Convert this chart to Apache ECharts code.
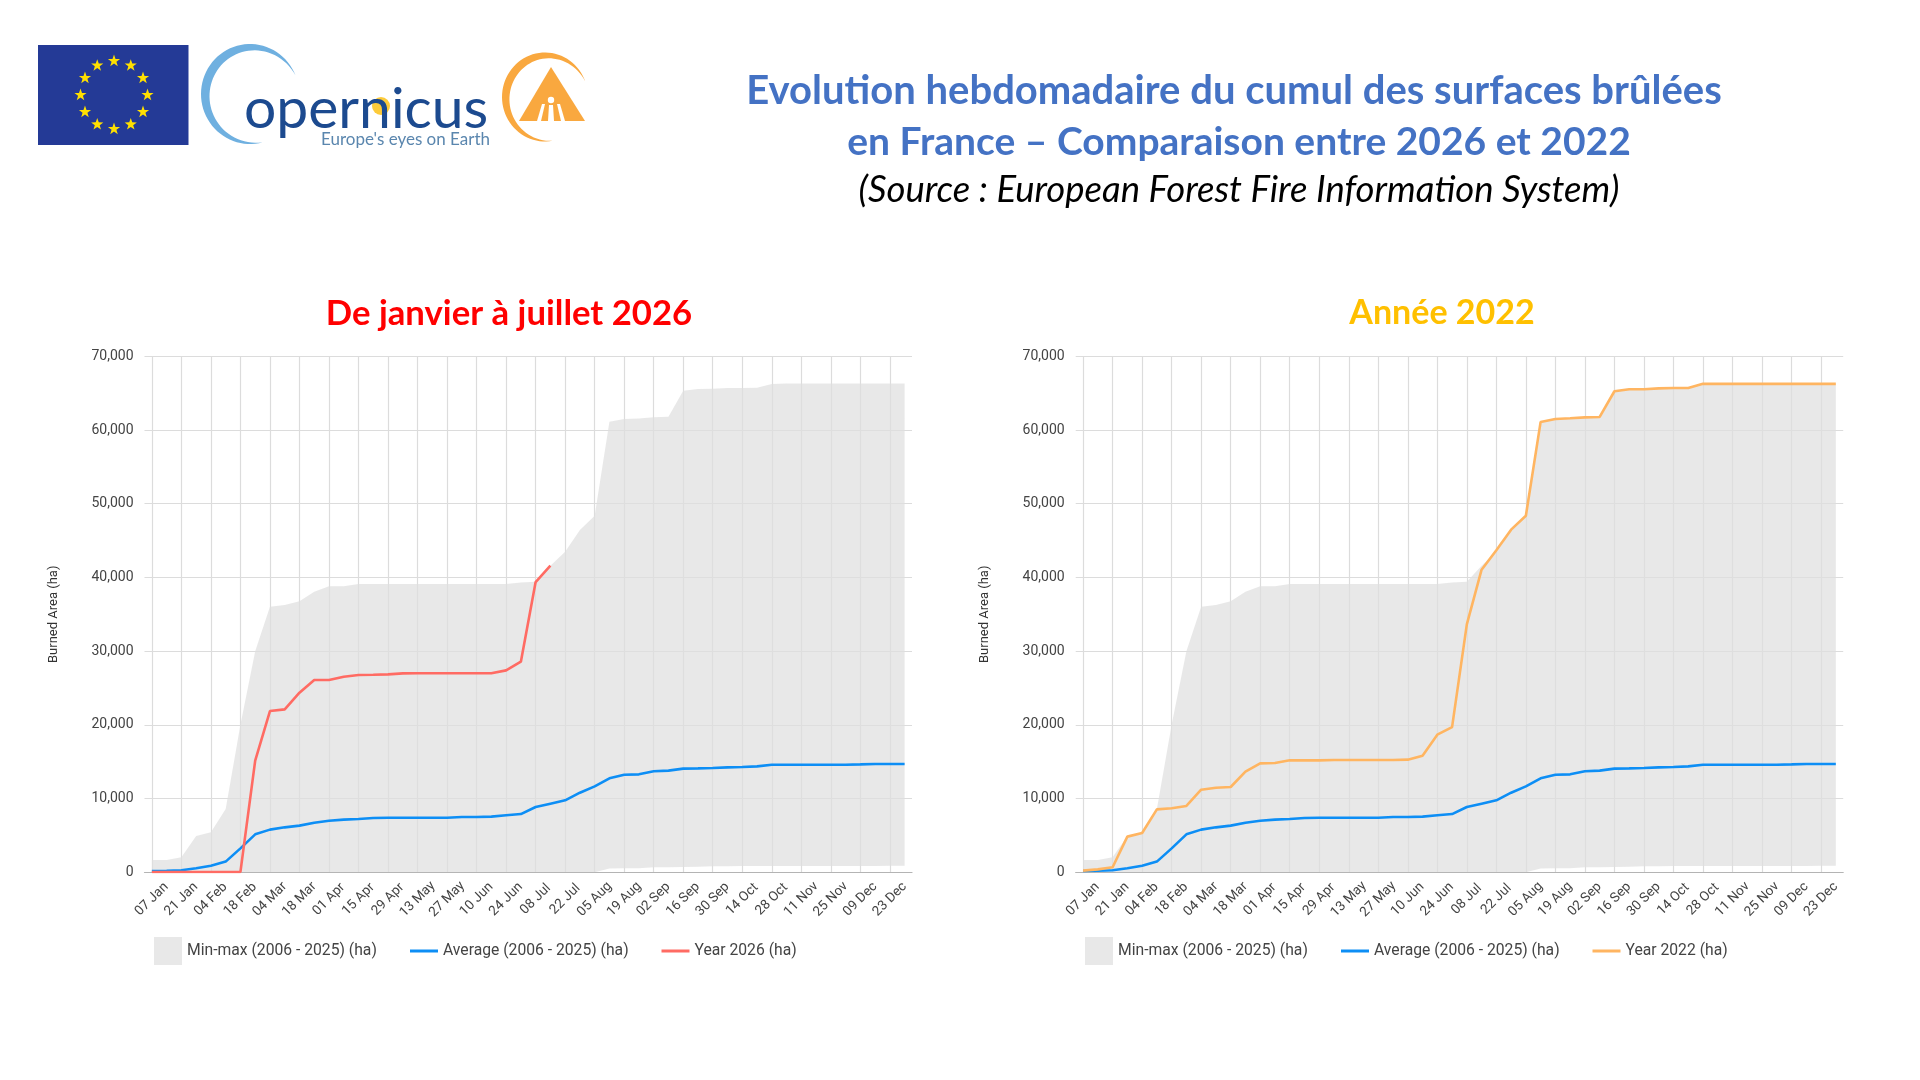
<!DOCTYPE html>
<html><head><meta charset="utf-8">
<style>html,body{margin:0;padding:0;background:#fff}#c{width:1920px;height:1080px}</style>
<script src="https://cdn.jsdelivr.net/npm/echarts@6/dist/echarts.min.js"></script>
</head><body><div id="c"></div>
<script>
// ---- data ----
const weeks = ['07 Jan','14 Jan','21 Jan','28 Jan','04 Feb','11 Feb','18 Feb','25 Feb','04 Mar','11 Mar','18 Mar','25 Mar','01 Apr','08 Apr','15 Apr','22 Apr','29 Apr','06 May','13 May','20 May','27 May','03 Jun','10 Jun','17 Jun','24 Jun','01 Jul','08 Jul','15 Jul','22 Jul','29 Jul','05 Aug','12 Aug','19 Aug','26 Aug','02 Sep','09 Sep','16 Sep','23 Sep','30 Sep','07 Oct','14 Oct','21 Oct','28 Oct','04 Nov','11 Nov','18 Nov','25 Nov','02 Dec','09 Dec','16 Dec','23 Dec','30 Dec'];
const maxValues = [1670,1670,2040,4930,5430,8580,20000,30000,36030,36250,36770,38070,38800,38800,39100,39100,39100,39100,39100,39100,39100,39100,39100,39100,39100,39300,39400,41600,43490,46440,48380,61130,61500,61570,61720,61810,65330,65570,65600,65700,65700,65750,66240,66300,66300,66300,66300,66300,66300,66300,66300,66300];
const minValues = [0,0,0,0,0,0,0,0,0,0,0,0,0,0,0,0,0,0,0,0,0,0,0,0,0,0,0,0,0,0,0,500,540,560,680,700,720,760,810,830,850,860,860,860,860,860,860,860,860,860,880,900];
const averageValues = [180,220,270,540,900,1450,3250,5150,5790,6100,6330,6730,7000,7140,7230,7370,7410,7410,7400,7400,7400,7500,7500,7550,7730,7900,8860,9310,9760,10800,11660,12750,13240,13290,13700,13790,14060,14100,14150,14240,14280,14370,14600,14600,14600,14600,14600,14600,14640,14690,14690,14690];
const year2026 = [50,50,50,50,50,50,50,15140,21880,22100,24360,26080,26080,26530,26760,26800,26850,26980,27000,27000,27000,27000,27000,27000,27390,28570,39380,41600];
const year2022 = [230,400,680,4840,5330,8540,8680,9000,11210,11480,11570,13650,14780,14830,15190,15190,15190,15230,15230,15230,15230,15230,15280,15820,18670,19700,33630,41050,43700,46480,48360,61100,61500,61600,61720,61770,65260,65540,65540,65650,65700,65700,66260,66260,66260,66260,66260,66260,66260,66260,66260,66260];
const nameBand = 'Min-max (2006 - 2025) (ha)';
const nameAvg = 'Average (2006 - 2025) (ha)';
const name2026 = 'Year 2026 (ha)';
const name2022 = 'Year 2022 (ha)';
const yTitle = 'Burned Area (ha)';
const mainTitle1 = 'Evolution hebdomadaire du cumul des surfaces brûlées';
const mainTitle2 = 'en France – Comparaison entre 2026 et 2022';
const sourceLine = '(Source : European Forest Fire Information System)';
const leftTitle = 'De janvier à juillet 2026';
const rightTitle = 'Année 2022';

// ---- styles ----
const FONT = 'Roboto';
const C_TEXT = '#444';
const C_GRID = '#dcdcdc';
const C_BLUE = '#0d8ef5';
const C_RED = '#ff6b63';
const C_ORANGE = '#ffb561';
const C_BAND = 'rgba(223,223,223,0.714)';
const bandRange = maxValues.map((v, i) => v - minValues[i]);

const panels = [
  {left: 144.5, yName: name2026, yData: year2026, yColor: C_RED, leg: [154, 410, 661.5]},
  {left: 1075.7, yName: name2022, yData: year2022, yColor: C_ORANGE, leg: [1085, 1341, 1592.5]}
];
const G_TOP = 356.3, G_H = 516, G_W = 767.5, LEG_Y = 951;

const grid = [], xAxis = [], yAxis = [], series = [], legend = [];
panels.forEach((p, k) => {
  grid.push({left: p.left, top: G_TOP, width: G_W, height: G_H, containLabel: false});
  xAxis.push({type: 'category', gridIndex: k, data: weeks, boundaryGap: true,
    axisLine: {show: true, lineStyle: {color: '#b4b4b4', width: 1.2}},
    axisTick: {show: false},
    axisLabel: {interval: 1, rotate: 45, align: 'center', verticalAlign: 'middle', margin: 27, fontFamily: FONT, fontSize: 13.5, color: C_TEXT, hideOverlap: false},
    splitLine: {show: true, interval: 1, alignWithLabel: true, lineStyle: {color: C_GRID, width: 1.2}}
  });
  yAxis.push({type: 'value', gridIndex: k, min: 0, max: 70000, interval: 10000,
    name: yTitle, nameLocation: 'middle', nameGap: 84, nameRotate: 90,
    nameTextStyle: {fontFamily: FONT, fontSize: 13, color: '#333'},
    axisLine: {show: false}, axisTick: {show: false},
    axisLabel: {margin: 11, padding: [2, 0, 0, 0], fontFamily: FONT, fontSize: 14, color: C_TEXT, formatter: v => v.toLocaleString('en-US')},
    splitLine: {show: true, lineStyle: {color: C_GRID, width: 1.2}}
  });
  const st = 'band' + k;
  series.push({type: 'line', name: 'min' + k, xAxisIndex: k, yAxisIndex: k, data: minValues, stack: st, showSymbol: false, silent: true, lineStyle: {width: 0, opacity: 0}, itemStyle: {opacity: 0}, z: 1});
  series.push({type: 'line', name: nameBand, xAxisIndex: k, yAxisIndex: k, data: bandRange, stack: st, showSymbol: false, lineStyle: {width: 0, opacity: 0}, itemStyle: {color: '#e8e8e8'}, areaStyle: {color: C_BAND, opacity: 1}, z: 1});
  series.push({type: 'line', name: nameAvg, xAxisIndex: k, yAxisIndex: k, data: averageValues, showSymbol: false, lineStyle: {color: C_BLUE, width: 2.6}, itemStyle: {color: C_BLUE}, z: 3});
  series.push({type: 'line', name: p.yName, xAxisIndex: k, yAxisIndex: k, data: p.yData, showSymbol: false, lineStyle: {color: p.yColor, width: 2.6}, itemStyle: {color: p.yColor}, z: 4});
  const legText = {fontFamily: FONT, fontSize: 15.7, color: C_TEXT};
  legend.push({data: [nameBand], left: p.leg[0] - 5, top: LEG_Y - 19, icon: 'rect', itemWidth: 28, itemHeight: 28, textStyle: legText, selectedMode: false});
  legend.push({data: [nameAvg], left: p.leg[1] - 5, top: LEG_Y - 19 + 6, icon: 'rect', itemWidth: 28, itemHeight: 3, textStyle: legText, selectedMode: false});
  legend.push({data: [p.yName], left: p.leg[2] - 5, top: LEG_Y - 19 + 6, icon: 'rect', itemWidth: 28, itemHeight: 3, textStyle: legText, selectedMode: false});
});

const BLUE_T = '#4472c4';
const title = [
  {text: mainTitle1, left: 1229, top: 66, textAlign: 'center', textStyle: {fontFamily: 'Lato', fontWeight: 'bold', fontSize: 40, color: BLUE_T}},
  {text: mainTitle2, left: 1234, top: 118, textAlign: 'center', textStyle: {fontFamily: 'Lato', fontWeight: 'bold', fontSize: 39, color: BLUE_T}},
  {text: sourceLine, left: 1234, top: 167, textAlign: 'center', textStyle: {fontFamily: 'Lato', fontStyle: 'italic', fontWeight: 'normal', fontSize: 36.5, color: '#000'}},
  {text: leftTitle, left: 504, top: 291, textAlign: 'center', textStyle: {fontFamily: 'Lato', fontWeight: 'bold', fontSize: 34.7, color: '#ff0000'}},
  {text: rightTitle, left: 1437, top: 291, textAlign: 'center', textStyle: {fontFamily: 'Lato', fontWeight: 'bold', fontSize: 34, color: '#ffc000'}}
];

// ---- logos (decoration) ----
function starPts(cx, cy, R) {
  const pts = [];
  for (let i = 0; i < 10; i++) {
    const r = i % 2 ? R * 0.4 : R, a = -Math.PI / 2 + i * Math.PI / 5;
    pts.push([cx + r * Math.cos(a), cy + r * Math.sin(a)]);
  }
  return pts;
}
function crescent(cx, cy, rx, ry, a0Deg, a1Deg, thick) {
  const out = [], inn = [], N = 60;
  for (let i = 0; i <= N; i++) {
    const t = i / N, a = (a0Deg + (a1Deg - a0Deg) * t) * Math.PI / 180;
    const w = thick * Math.sin(Math.PI * t);
    out.push([cx + rx * Math.cos(a), cy + ry * Math.sin(a)]);
    inn.unshift([cx + (rx - w) * Math.cos(a), cy + (ry - w) * Math.sin(a)]);
  }
  return out.concat(inn);
}
const logo = [];
logo.push({type: 'rect', shape: {x: 38, y: 45, width: 150.5, height: 100}, style: {fill: '#243a96'}});
for (let i = 0; i < 12; i++) {
  const a = i * Math.PI / 6;
  logo.push({type: 'polygon', shape: {points: starPts(114 + 33.5 * Math.sin(a), 95 - 34 * Math.cos(a), 6.4)}, style: {fill: '#ffe000'}});
}
logo.push({type: 'polygon', shape: {points: crescent(250, 94, 49, 50, -22, -285, 9)}, style: {fill: '#6fb0e0'}});
logo.push({type: 'circle', shape: {cx: 381, cy: 106, r: 9}, style: {fill: '#fdcb3a'}});
logo.push({type: 'text', x: 244, y: 110, style: {text: 'opernicus', fontFamily: 'Lato', fontWeight: 'normal', fontSize: 57, fill: '#1c4a8f', verticalAlign: 'middle'}});
logo.push({type: 'text', x: 321, y: 140, style: {text: "Europe's eyes on Earth", fontFamily: 'Lato', fontSize: 17, fill: '#5a86ae', verticalAlign: 'middle'}});
logo.push({type: 'polygon', shape: {points: crescent(545, 97, 43, 44.5, -20, -280, 8)}, style: {fill: '#f9a83f'}});
logo.push({type: 'polygon', shape: {points: [[551, 67], [585, 121], [519, 121]]}, style: {fill: '#f9a83f'}});
logo.push({type: 'circle', shape: {cx: 551, cy: 100, r: 3.2}, style: {fill: '#fff'}});
logo.push({type: 'polygon', shape: {points: [[549, 105], [553, 105], [554, 121], [548, 121]]}, style: {fill: '#fff'}});
logo.push({type: 'polygon', shape: {points: [[542, 104], [545, 104], [541, 121], [537, 121]]}, style: {fill: '#fff'}});
logo.push({type: 'polygon', shape: {points: [[557, 104], [560, 104], [565, 121], [561, 121]]}, style: {fill: '#fff'}});

const chart = echarts.init(document.getElementById('c'), null, {renderer: 'canvas'});
chart.setOption({
  animation: false, backgroundColor: '#fff',
  title, grid, xAxis, yAxis, series, legend,
  graphic: {elements: logo}
});
</script></body></html>
